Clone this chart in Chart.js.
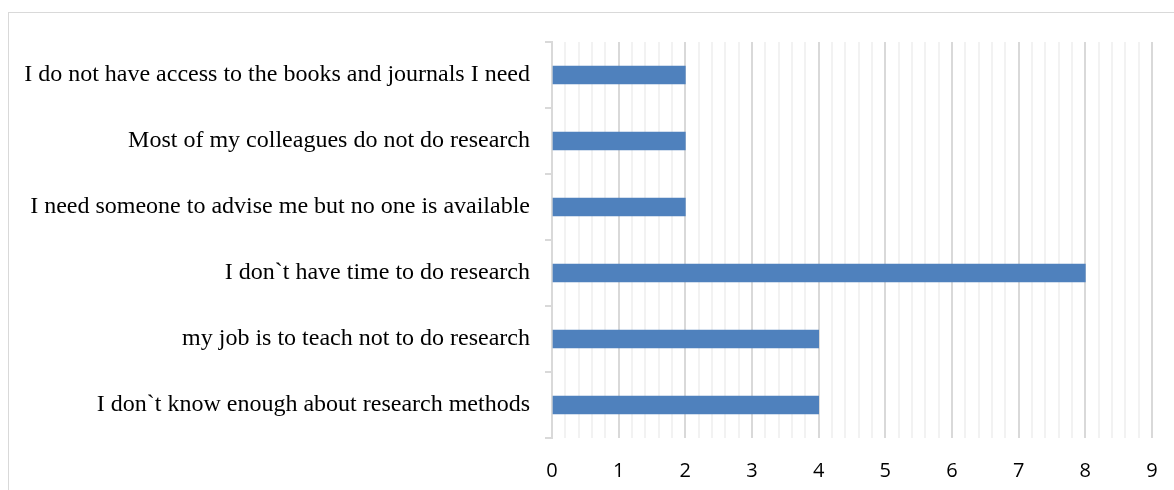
<!DOCTYPE html>
<html>
<head>
<meta charset="utf-8">
<script src="https://cdn.jsdelivr.net/npm/chart.js@4/dist/chart.umd.min.js"></script>
<style>
    html, body { margin: 0; padding: 0; background: #fff; }
    #cadre {
        position: absolute; left: 8px; top: 12px;
        width: 1200px; height: 520px;
        border: 1px solid #d9d9d9; box-sizing: border-box;
    }
    #wrap { position: absolute; left: 0; top: 0; width: 1174px; height: 490px; }
</style>
</head>
<body>
<div id="cadre"></div>
<div id="wrap"><canvas id="raisonsChart" width="1174" height="490"></canvas></div>
<script>
// Donnees du graphique (de haut en bas)
const categories = [
    'I do not have access to the books and journals I need',
    'Most of my colleagues do not do research',
    'I need someone to advise me but no one is available',
    'I don`t have time to do research',
    'my job is to teach not to do research',
    'I don`t know enough about research methods'
];
const valeurs = [2, 2, 2, 8, 4, 4];
const xMin = 0;
const xMax = 9;

function estEntier(v) {
    return Math.abs(v - Math.round(v)) < 1e-6;
}

const ctx = document.getElementById('raisonsChart').getContext('2d');
const raisonsChart = new Chart(ctx, {
    type: 'bar',
    data: {
        labels: categories,
        datasets: [{
            data: valeurs,
            backgroundColor: '#4f81bd',
            borderWidth: 0,
            barThickness: 18
        }]
    },
    options: {
        indexAxis: 'y',
        responsive: false,
        animation: false,
        layout: { padding: { top: 42, right: 22, bottom: 0, left: 0 } },
        plugins: { legend: { display: false }, tooltip: { enabled: false } },
        scales: {
            x: {
                min: xMin,
                max: xMax,
                afterFit: function(scale) {
                    scale.height = 52;
                    scale.paddingRight = 0;
                    scale.paddingLeft = 0;
                },
                ticks: {
                    stepSize: 0.2,
                    autoSkip: false,
                    maxRotation: 0,
                    padding: 21,
                    color: '#000',
                    font: { family: 'Open Sans', size: 20 },
                    callback: function(value) {
                        return estEntier(value) ? String(Math.round(value)) : '';
                    }
                },
                grid: {
                    drawTicks: false,
                    color: function(c) {
                        return estEntier(c.tick.value) ? '#d9d9d9' : '#f2f2f2';
                    },
                    lineWidth: 2
                },
                border: { display: false }
            },
            y: {
                afterFit: function(scale) { scale.width = 552; },
                ticks: {
                    padding: 15,
                    color: '#000',
                    font: { family: 'Liberation Serif', size: 24 }
                },
                grid: {
                    offset: true,
                    drawOnChartArea: false,
                    drawTicks: true,
                    tickLength: 7,
                    color: '#d9d9d9',
                    lineWidth: 2
                },
                border: { display: true, color: '#d9d9d9', width: 2 }
            }
        }
    }
});
</script>
</body>
</html>
